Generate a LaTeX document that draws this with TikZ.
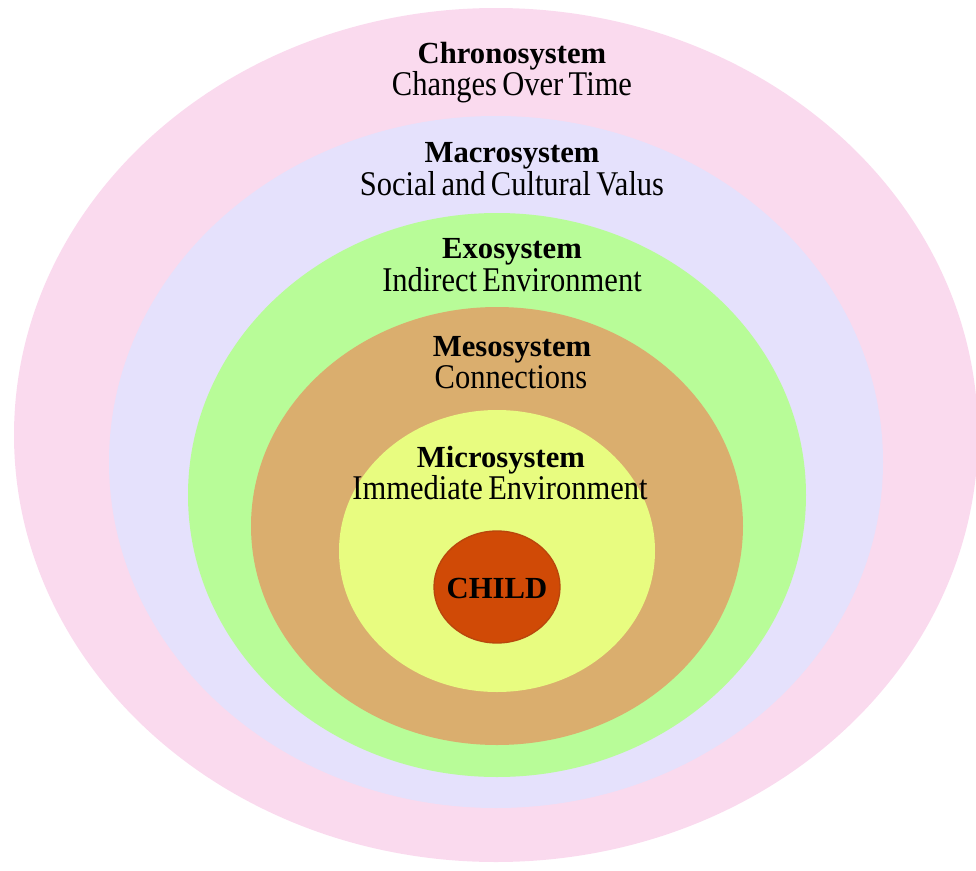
\documentclass[tikz,border=0pt]{standalone}
\usepackage{fontspec}
\setmainfont{Liberation Serif}
% narrow, tall sub-lines
\newfontfamily\subfont[WordSpace=0.7, FakeStretch=0.88]{Liberation Serif}

\definecolor{chronoC}{RGB}{250,218,238}
\definecolor{macroC}{RGB}{229,225,252}
\definecolor{exoC}{RGB}{184,252,152}
\definecolor{mesoC}{RGB}{218,174,110}
\definecolor{microC}{RGB}{232,252,128}
\definecolor{childC}{RGB}{208,74,6}
\definecolor{childRim}{RGB}{185,70,12}

\begin{document}
\begin{tikzpicture}[x=0.75pt,y=-0.75pt,
  title/.style={font=\fontsize{23}{27}\selectfont\bfseries, anchor=base, inner sep=0pt},
  subtitle/.style={font=\fontsize{26}{30}\selectfont\subfont, anchor=base, inner sep=0pt},
  ]
\useasboundingbox (0,0) rectangle (976,871);

% nested system rings, outermost first
\fill[chronoC] (496,435) ellipse [x radius=482, y radius=427];
\fill[macroC]  (496,462) ellipse [x radius=387, y radius=346];
\fill[exoC]    (497,495) ellipse [x radius=309, y radius=282];
\fill[mesoC]   (497,526) ellipse [x radius=246, y radius=219];
\fill[microC]  (497,551) ellipse [x radius=158, y radius=141];
\filldraw[fill=childC, draw=childRim, line width=1] (497,587) ellipse [x radius=63, y radius=56];

% labels
\node[title]    (chrono)    at (512,63)  {Chronosystem};
\node[subtitle] (chronoSub) at (512,95)  {Changes Over Time};
\node[title]    (macro)     at (512,162) {Macrosystem};
\node[subtitle] (macroSub)  at (512,195) {Social and Cultural Valus};
\node[title]    (exo)       at (512,258) {Exosystem};
\node[subtitle] (exoSub)    at (512,291) {Indirect Environment};
\node[title]    (meso)      at (512,356) {Mesosystem};
\node[subtitle] (mesoSub)   at (511,388) {Connections};
\node[title]    (micro)     at (501,467) {Microsystem};
\node[subtitle] (microSub)  at (500,499) {Immediate Environment};
\node[title]    (child)     at (497,598) {CHILD};
\end{tikzpicture}
\end{document}
